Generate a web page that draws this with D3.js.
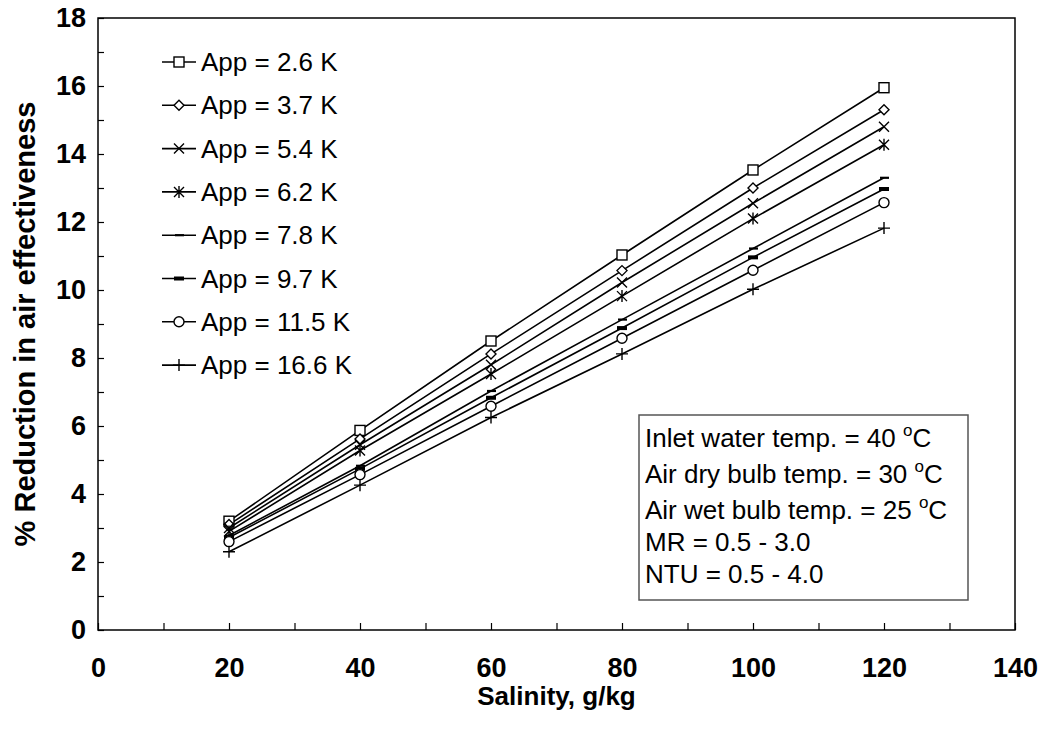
<!DOCTYPE html>
<html>
<head>
<meta charset="utf-8">
<script src="https://d3js.org/d3.v7.min.js"></script>
<style>
  body { margin: 0; background: #fff; }
  text { font-family: Arial, "Liberation Sans", sans-serif; fill: #000; }
</style>
</head>
<body>
<div id="chart"></div>
<script>
// salinity values (g/kg) on the x axis
var salinity = [20, 40, 60, 80, 100, 120];

// approach temperatures, one line each
var approach = ["2.6", "3.7", "5.4", "6.2", "7.8", "9.7", "11.5", "16.6"];
var markerTypes = ["square", "diamond", "cross", "star", "dash", "bar", "circle", "plus"];

// % reduction in air effectiveness
var app26 = [3.2, 5.87, 8.5, 11.03, 13.53, 15.95];
var app37 = [3.1, 5.62, 8.12, 10.57, 13.0, 15.3];
var app54 = [3.0, 5.45, 7.8, 10.22, 12.55, 14.8];
var app62 = [2.9, 5.28, 7.53, 9.82, 12.1, 14.27];
var app78 = [2.78, 4.83, 7.03, 9.13, 11.22, 13.3];
var app97 = [2.72, 4.74, 6.83, 8.88, 10.96, 12.97];
var app115 = [2.6, 4.57, 6.58, 8.58, 10.58, 12.57];
var app166 = [2.3, 4.26, 6.25, 8.12, 10.02, 11.82];
var seriesValues = [app26, app37, app54, app62, app78, app97, app115, app166];

// text in the box
var notes = [
  ["Inlet water temp. = 40 ", "C"],
  ["Air dry bulb temp. = 30 ", "C"],
  ["Air wet bulb temp. = 25 ", "C"],
  ["MR = 0.5 - 3.0", null],
  ["NTU = 0.5 - 4.0", null]
];

var width = 1042, height = 729;
var plotLeft = 98, plotRight = 1015, plotTop = 18, plotBottom = 630;

var x = d3.scaleLinear().domain([0, 140]).range([plotLeft, plotRight]);
var y = d3.scaleLinear().domain([0, 18]).range([plotBottom, plotTop]);

var svg = d3.select("#chart").append("svg")
    .attr("width", width)
    .attr("height", height);

// plot frame
svg.append("rect")
    .attr("x", plotLeft).attr("y", plotTop)
    .attr("width", plotRight - plotLeft).attr("height", plotBottom - plotTop)
    .style("fill", "none")
    .style("stroke", "#000")
    .style("stroke-width", 1.5);

// axes, ticks pointing inside
var yAxis = d3.axisLeft(y)
    .tickValues(d3.range(0, 19, 1))
    .tickSize(-6)
    .tickPadding(12)
    .tickFormat(function(d) { return d % 2 === 0 ? d : ""; });

var xAxis = d3.axisBottom(x)
    .tickValues(d3.range(0, 141, 10))
    .tickSize(-7)
    .tickPadding(28)
    .tickFormat(function(d) { return d % 20 === 0 ? d : ""; });

var gy = svg.append("g")
    .attr("transform", "translate(" + plotLeft + ",0)")
    .call(yAxis);
var gx = svg.append("g")
    .attr("transform", "translate(0," + plotBottom + ")")
    .call(xAxis);

[gx, gy].forEach(function(g) {
  g.select(".domain").remove();
  g.selectAll(".tick line").style("stroke", "#000").style("stroke-width", 1.2);
  g.selectAll(".tick text")
    .style("font-family", "Arial, 'Liberation Sans', sans-serif")
    .style("font-size", "27px")
    .style("font-weight", "bold")
    .style("fill", "#000");
});

// axis titles
svg.append("text")
    .attr("x", (plotLeft + plotRight) / 2)
    .attr("y", 705)
    .attr("text-anchor", "middle")
    .style("font-size", "26px")
    .style("font-weight", "bold")
    .text("Salinity, g/kg");

svg.append("text")
    .attr("transform", "translate(35," + ((plotTop + plotBottom) / 2) + ") rotate(-90)")
    .attr("text-anchor", "middle")
    .style("font-size", "29px")
    .style("font-weight", "bold")
    .text("% Reduction in air effectiveness");

// draws one marker of the given type at (cx, cy)
function drawMarker(g, type, cx, cy) {
  var m = g.append("g").attr("transform", "translate(" + cx + "," + cy + ")")
      .style("stroke", "#000").style("stroke-width", 1.4).style("fill", "#fff");
  if (type == "square") {
    m.append("rect").attr("x", -5).attr("y", -5).attr("width", 10).attr("height", 10);
  } else if (type == "diamond") {
    m.append("path").attr("d", "M0,-5L5,0L0,5L-5,0Z");
  } else if (type == "cross") {
    m.append("path").attr("d", "M-5,-5L5,5M-5,5L5,-5");
  } else if (type == "star") {
    m.append("path").attr("d", "M-5,-5L5,5M-5,5L5,-5M0,-6L0,6");
  } else if (type == "dash") {
    m.append("path").attr("d", "M-4,0L5,0").style("stroke-width", 2.2);
  } else if (type == "bar") {
    m.append("path").attr("d", "M-5,0L5,0").style("stroke-width", 4);
  } else if (type == "circle") {
    m.append("circle").attr("r", 5);
  } else if (type == "plus") {
    m.append("path").attr("d", "M-6,0L6,0M0,-6L0,6");
  }
}

var line = d3.line()
    .x(function(d, i) { return x(salinity[i]); })
    .y(function(d) { return y(d); });

var series = svg.append("g").attr("class", "series");

seriesValues.forEach(function(vals, k) {
  series.append("path")
      .attr("d", line(vals))
      .style("fill", "none")
      .style("stroke", "#000")
      .style("stroke-width", 1.6);
});
seriesValues.forEach(function(vals, k) {
  vals.forEach(function(v, i) {
    drawMarker(series, markerTypes[k], x(salinity[i]), y(v));
  });
});

// legend
var legend = svg.append("g").attr("class", "legend");
approach.forEach(function(a, k) {
  var ly = 62 + k * 43.3;
  legend.append("line")
      .attr("x1", 162).attr("x2", 196)
      .attr("y1", ly).attr("y2", ly)
      .style("stroke", "#000").style("stroke-width", 1.6);
  drawMarker(legend, markerTypes[k], 179, ly);
  legend.append("text")
      .attr("x", 201)
      .attr("y", ly + 9)
      .style("font-size", "26px")
      .text("App = " + a + " K");
});

// box with the test conditions
var box = svg.append("g").attr("class", "notes");
box.append("rect")
    .attr("x", 639).attr("y", 415)
    .attr("width", 329).attr("height", 185)
    .style("fill", "#fff")
    .style("stroke", "#555")
    .style("stroke-width", 1.5);

var baselines = [447, 483, 519, 551, 583];
notes.forEach(function(n, i) {
  var t = box.append("text")
      .attr("x", 645)
      .attr("y", baselines[i])
      .style("font-size", "26px");
  t.append("tspan").text(n[0]);
  if (n[1]) {
    t.append("tspan").attr("dy", -11).style("font-size", "17px").text("o");
    t.append("tspan").attr("dy", 11).text(n[1]);
  }
});
</script>
</body>
</html>
